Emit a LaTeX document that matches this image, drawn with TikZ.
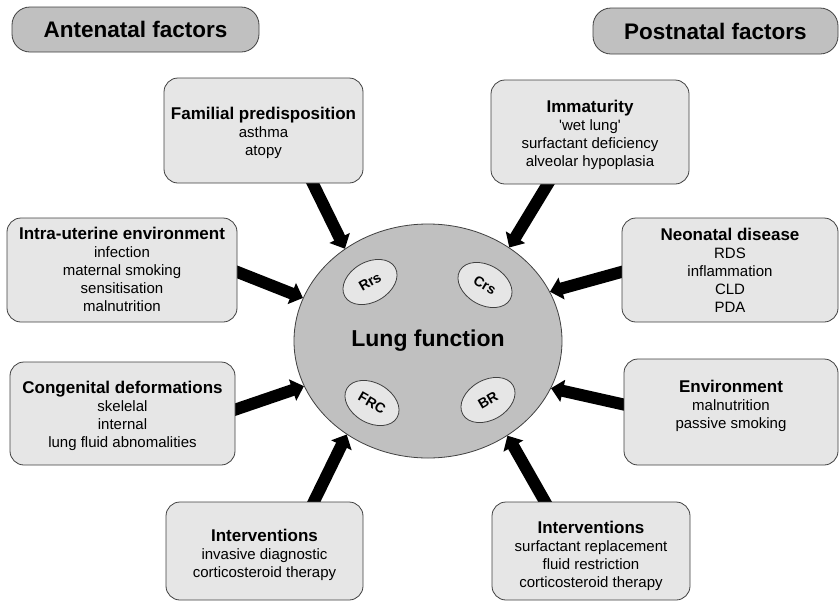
\documentclass[tikz,border=0pt]{standalone}
\usepackage{fontspec}
\setmainfont{Liberation Sans}
\usetikzlibrary{arrows.meta,shapes.geometric,backgrounds}
\definecolor{boxfill}{HTML}{E6E6E6}
\definecolor{darkfill}{HTML}{C0C0C0}
\definecolor{edgecol}{HTML}{404040}
\newcommand{\factortitle}[1]{{\fontsize{17}{18}\selectfont\bfseries #1}}
\begin{document}
\begin{tikzpicture}[x=1pt,y=-1pt,
  factor/.style={draw=edgecol, line width=0.8pt, fill=boxfill, rounded corners=14pt, inner sep=0pt},
  header/.style={draw=edgecol, line width=0.8pt, fill=darkfill, rounded corners=18pt, inner sep=0pt,
    font=\fontsize{22.5}{24}\selectfont\bfseries},
  txt/.style={align=center, inner sep=0pt, anchor=base, font=\fontsize{15}{18}\selectfont},
  param/.style={ellipse, draw=edgecol, line width=0.8pt, fill=boxfill, minimum width=58pt,
    minimum height=40pt, inner sep=0pt},
  paramtext/.style={inner sep=0pt, font=\fontsize{14}{16}\selectfont\bfseries},
  arr/.style={line width=12pt, shorten <=-8pt, -{Triangle[length=12pt,width=22pt]}}
]
\useasboundingbox (0,0) rectangle (839,603);

% headers
\node[header, minimum width=247pt, minimum height=45pt] (ante) at (135.5,29.5) {Antenatal factors};
\node[header, minimum width=245pt, minimum height=46pt] (post) at (715.5,31) {Postnatal factors};

% central ellipse
\node[ellipse, draw=edgecol, line width=0.8pt, fill=darkfill, minimum width=268pt, minimum height=234pt,
  inner sep=0pt] (lung) at (428,341) {};
\node[inner sep=0pt, font=\fontsize{23}{24}\selectfont\bfseries] (lungt) at (lung.center) {Lung function};
\node[param, rotate=30] (rrs) at (370,282) {};
\node[param, rotate=-30] (crs) at (485,285) {};
\node[param, rotate=-30] (frc) at (372,403) {};
\node[param, rotate=30] (br) at (488,400) {};
\node[paramtext, rotate=30] (rrst) at (rrs.center) {Rrs};
\node[paramtext, rotate=-30] (crst) at (crs.center) {Crs};
\node[paramtext, rotate=-30] (frct) at (frc.center) {FRC};
\node[paramtext, rotate=30] (brt) at (br.center) {BR};

% factor boxes
\node[factor, minimum width=199pt, minimum height=105pt] (fam) at (263.5,130.5) {};
\node[factor, minimum width=198pt, minimum height=104pt] (imm) at (590,132) {};
\node[factor, minimum width=230pt, minimum height=104pt] (iu) at (122,270) {};
\node[factor, minimum width=216pt, minimum height=104pt] (neo) at (730,270) {};
\node[factor, minimum width=225pt, minimum height=103pt] (cong) at (122.5,413.5) {};
\node[factor, minimum width=214pt, minimum height=106pt] (env) at (731,412) {};
\node[factor, minimum width=197pt, minimum height=98pt] (lint) at (264.5,551) {};
\node[factor, minimum width=198pt, minimum height=98pt] (rint) at (591,551) {};

% texts (anchored at the baseline of the last line)
\node[txt] (famt) at (263.5,155) {\factortitle{Familial predisposition}\\asthma\\atopy};
\node[txt] (immt) at (590,166) {\factortitle{Immaturity}\\\textquotesingle wet lung\textquotesingle\\surfactant deficiency\\alveolar hypoplasia};
\node[txt] (iut) at (122,311) {\factortitle{Intra-uterine environment}\\infection\\maternal smoking\\sensitisation\\malnutrition};
\node[txt] (neot) at (730,312) {\factortitle{Neonatal disease}\\RDS\\inflammation\\CLD\\PDA};
\node[txt] (congt) at (122.5,447) {\factortitle{Congenital deformations}\\skelelal\\internal\\lung fluid abnomalities};
\node[txt] (envt) at (731,428) {\factortitle{Environment}\\malnutrition\\passive smoking};
\node[txt] (lintt) at (264.5,577) {\factortitle{Interventions}\\invasive diagnostic\\corticosteroid therapy};
\node[txt] (rintt) at (591,587) {\factortitle{Interventions}\\surfactant replacement\\fluid restriction\\corticosteroid therapy};

% arrows
\begin{scope}[on background layer]
\draw[arr] (fam.-47) -- (lung.132);
\draw[arr] (imm.-129) -- (lung.49);
\draw[arr] (iu.-1) -- (lung.161);
\draw[arr] (neo.181) -- (lung.22);
\draw[arr] (cong.2) -- (lung.200);
\draw[arr] (env.176) -- (lung.-21);
\draw[arr] (lint.45) -- (lung.229);
\draw[arr] (rint.133) -- (lung.-50);
\end{scope}
\end{tikzpicture}
\end{document}
